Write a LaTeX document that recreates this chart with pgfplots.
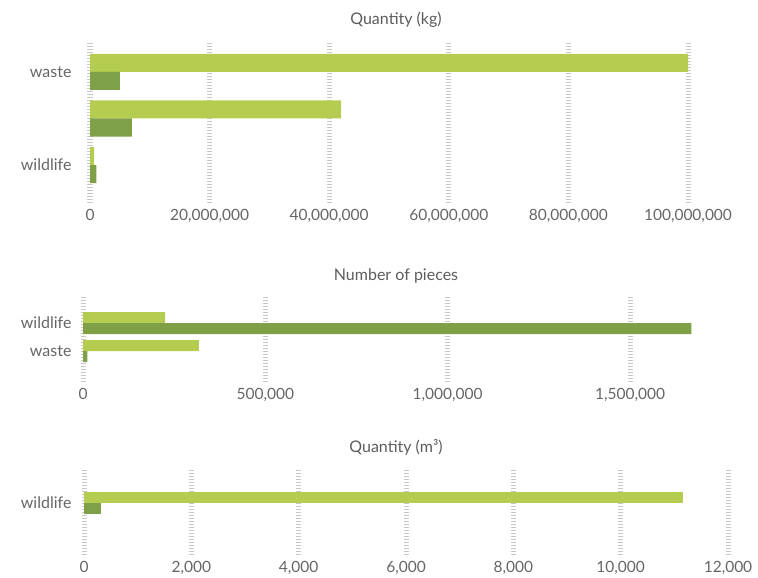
\documentclass[border=0pt]{standalone}
\usepackage{fontspec}
\setmainfont{Lato}
\usepackage{pgfplots}
\pgfplotsset{compat=1.18}
\definecolor{lightg}{RGB}{180,205,80}
\definecolor{darkg}{RGB}{128,160,72}
\definecolor{gridc}{RGB}{200,200,200}
\definecolor{txt}{RGB}{102,102,102}
\pgfplotsset{panel/.style={
  scale only axis, anchor=north west, clip=false,
  axis line style={draw=none}, major tick style={draw=none}, minor tick style={draw=none},
  xmajorgrids, ymajorgrids=false,
  grid style={draw=gridc, line width=5pt, dash pattern=on 0.9pt off 2.1pt},
  xticklabel style={font=\fontsize{15.5}{17}\selectfont, text=txt, yshift=-3pt},
  yticklabel style={font=\fontsize{16}{18}\selectfont, text=txt},
  xmin=0,
  scaled x ticks=false,
}}
\begin{document}
\begin{tikzpicture}
\useasboundingbox (0pt,0pt) rectangle (758pt,-578pt);
\node[font=\fontsize{16}{18}\selectfont, text=txt!90!black] at (396pt,-20pt) {Quantity (kg)};
\node[font=\fontsize{16}{18}\selectfont, text=txt!90!black] at (396pt,-276pt) {Number of pieces};
\node[font=\fontsize{16}{18}\selectfont, text=txt!90!black] at (396pt,-447pt) {Quantity (m³)};
% top
\begin{axis}[panel, at={(90pt,-42pt)}, width=598pt, height=161pt,
  xmax=1e8, ymin=-0.817, ymax=2.645,
  yticklabel style={xshift=-15pt},
  xtick={0,2e7,4e7,6e7,8e7,1e8},
  xticklabels={0,{20,000,000},{40,000,000},{60,000,000},{80,000,000},{100,000,000}},
  ytick={0,1,2}, yticklabels={wildlife,,waste}]
\addplot[xbar, bar width=18pt, bar shift=9pt, fill=lightg, draw=none] coordinates {(100000000,2) (42000000,1) (700000,0)};
\addplot[xbar, bar width=18pt, bar shift=-9pt, fill=darkg, draw=none] coordinates {(5000000,2) (7000000,1) (1050000,0)};
\end{axis}
% middle
\begin{axis}[panel, at={(83pt,-297pt)}, width=620pt, height=85pt,
  xmax=1700000, ymin=-1.107, ymax=1.93,
  yticklabel style={xshift=-8pt},
  xtick={0,500000,1000000,1500000},
  xticklabels={0,{500,000},{1,000,000},{1,500,000}},
  ytick={0,1}, yticklabels={waste,wildlife}]
\addplot[xbar, bar width=11pt, bar shift=5.5pt, fill=lightg, draw=none] coordinates {(225000,1) (318000,0)};
\addplot[xbar, bar width=11pt, bar shift=-5.5pt, fill=darkg, draw=none] coordinates {(1668000,1) (12000,0)};
\end{axis}
% bottom
\begin{axis}[panel, at={(84pt,-470pt)}, width=644pt, height=85pt,
  xmax=12000, ymin=-52, ymax=33,
  yticklabel style={xshift=-9pt},
  xtick={0,2000,4000,6000,8000,10000,12000},
  xticklabels={0,{2,000},{4,000},{6,000},{8,000},{10,000},{12,000}},
  ytick={0}, yticklabels={wildlife}]
\addplot[xbar, bar width=11pt, bar shift=5.5pt, fill=lightg, draw=none] coordinates {(11160,0)};
\addplot[xbar, bar width=11pt, bar shift=-5.5pt, fill=darkg, draw=none] coordinates {(324,0)};
\end{axis}
\end{tikzpicture}
\end{document}
